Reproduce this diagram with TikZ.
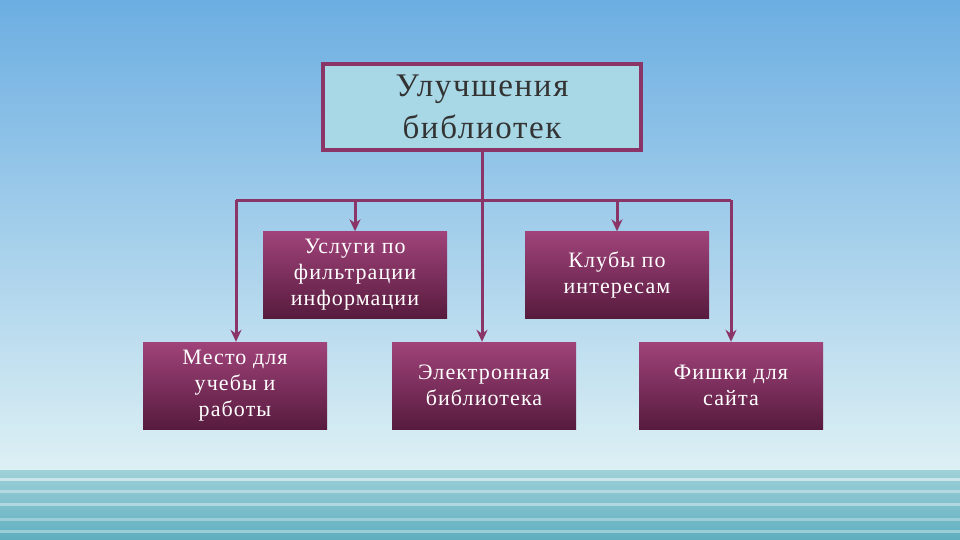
\documentclass[tikz,border=0pt]{standalone}
\usepackage{fontspec}
\setmainfont{Liberation Serif}
\newfontfamily\wideserif[LetterSpace=5]{Liberation Serif}
\usetikzlibrary{arrows.meta}
\definecolor{skytop}{HTML}{6CAEE2}
\definecolor{skybot}{HTML}{DDF0F4}
\definecolor{seatop}{HTML}{9FD0D8}
\definecolor{seabot}{HTML}{5FAFBF}
\definecolor{plum}{HTML}{8A3468}
\definecolor{boxtop}{HTML}{A0437A}
\definecolor{boxbot}{HTML}{571B3E}
\definecolor{headfill}{HTML}{A8D8E6}
\tikzset{
  sub/.style={rectangle, minimum width=184pt, minimum height=87pt, inner sep=0pt,
    top color=boxtop, bottom color=boxbot, text=white, align=center,
    font=\wideserif\fontsize{22}{26}\selectfont},
  head/.style={rectangle, draw=plum, line width=4pt, fill=headfill, minimum width=318pt,
    minimum height=86pt, align=center, font=\wideserif\fontsize{33}{42}\selectfont, text=black!80},
  conn/.style={draw=plum, line width=3pt},
  arr/.style={conn, -{Stealth[length=12pt,width=11pt]}}
}
\begin{document}
\begin{tikzpicture}[x=1pt,y=-1pt]
\useasboundingbox (0,0) rectangle (960,540);
\shade[top color=skytop, bottom color=skybot] (0,0) rectangle (960,470);
\shade[top color=seatop, bottom color=seabot] (0,470) rectangle (960,540);
\foreach \yy/\op in {478/0.5,490/0.35,503/0.4,518/0.3,530/0.35}{
  \fill[white, opacity=\op] (0,\yy) rectangle (960,\yy+3);
}
\node[head] (top) at (482,107) {Улучшения\\библиотек};
\node[sub] (usl) at (355,275) {Услуги по\\фильтрации\\информации};
\node[sub] (klub) at (617,275) {Клубы по\\интересам};
\node[sub] (mesto) at (235,385.5) {Место для\\учебы и\\работы};
\node[sub] (el) at (484,385.5) {Электронная\\библиотека};
\node[sub] (fish) at (731,385.5) {Фишки для\\сайта};
\coordinate (j) at (482,200);
\coordinate (l) at (236,200);
\coordinate (r) at (731,200);
\draw[conn] (top.south) -- (j);
\draw[conn] (l) -- (r);
\draw[arr] (l) -- (mesto.north -| l);
\draw[arr] (355,200) -- (usl.north);
\draw[arr] (j) -- (el.north -| j);
\draw[arr] (617,200) -- (klub.north);
\draw[arr] (r) -- (fish.north);
\end{tikzpicture}
\end{document}
